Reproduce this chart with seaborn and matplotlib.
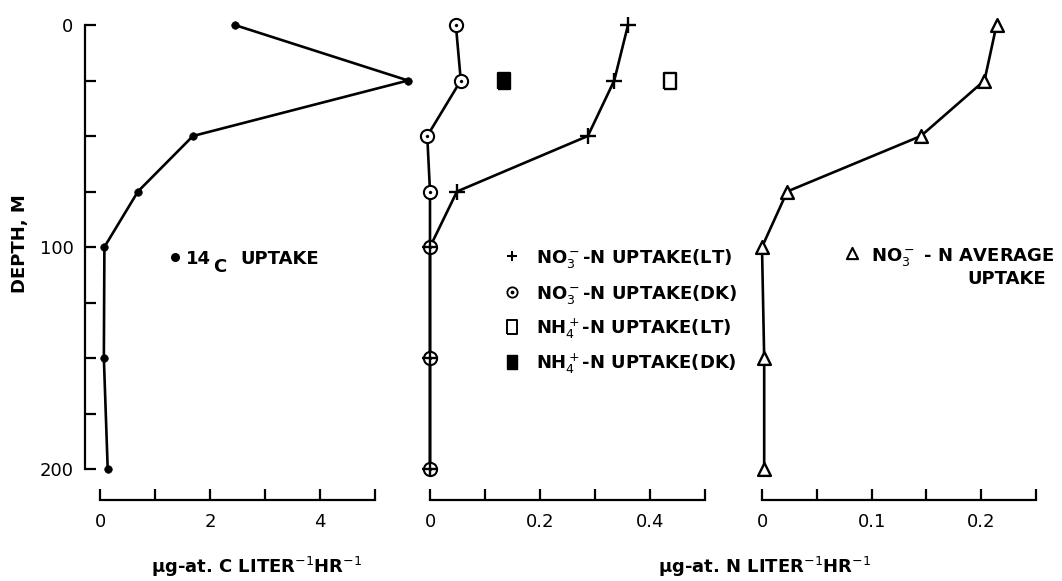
import matplotlib
matplotlib.use('Agg')
import matplotlib.pyplot as plt
import seaborn as sns

# Depth profiles of carbon and nitrogen uptake
depth_m = [0, 25, 50, 75, 100, 150, 200]
c14_uptake = [2.45, 5.6, 1.69, 0.69, 0.08, 0.07, 0.14]
no3_uptake_lt = [0.36, 0.335, 0.287, 0.049, 0.0, 0.0, 0.0]
no3_uptake_dk = [0.047, 0.056, -0.005, 0.0, 0.0, 0.0, 0.0]
nh4_depth_m = [25]
nh4_uptake_lt = [0.436]
nh4_uptake_dk = [0.135]
no3_avg_uptake = [0.214, 0.203, 0.145, 0.023, 0.0, 0.002, 0.002]

c_ticks = [0, 1, 2, 3, 4, 5]
c_ticklabels = ['0', '', '2', '', '4', '']
n_ticks = [0, 0.1, 0.2, 0.3, 0.4, 0.5]
n_ticklabels = ['0', '', '0.2', '', '0.4', '']
avg_ticks = [0, 0.05, 0.1, 0.15, 0.2, 0.25]
avg_ticklabels = ['0', '', '0.1', '', '0.2', '']
depth_major = [0, 100, 200]
depth_minor = [25, 50, 75, 125, 150, 175]

sns.set_theme(style="ticks")
plt.rcParams['font.family'] = ['DejaVu Sans']
plt.rcParams['mathtext.fontset'] = 'dejavusans'
plt.rcParams['text.color'] = 'black'

W, H = 1062, 581
fig = plt.figure(figsize=(W / 100, H / 100), dpi=100)
fig.patch.set_facecolor('white')

TOP, BOT = 25, 469
LW = 1.9
FS = 13


def add_panel(x0, x1):
    return fig.add_axes([x0 / W, 1 - BOT / H, (x1 - x0) / W, (BOT - TOP) / H])


def style_panel(ax, xmax, ticks, labels):
    ax.set_facecolor('white')
    ax.set_xlim(0, xmax)
    ax.set_ylim(200, 0)
    ax.set_xticks(ticks, labels)
    ax.set_xlabel('')
    ax.set_ylabel('')
    for side in ['top', 'right']:
        ax.spines[side].set_visible(False)
    ax.spines['bottom'].set_position(('outward', 22))
    ax.spines['bottom'].set_bounds(0, xmax)
    ax.spines['bottom'].set_linewidth(1.6)
    ax.spines['bottom'].set_color('black')
    ax.tick_params(axis='x', direction='in', length=8, width=1.6, pad=10,
                   labelsize=FS, colors='black')
    if ax is not ax1:
        ax.spines['left'].set_visible(False)
        ax.tick_params(axis='y', left=False, labelleft=False)
    for artist in ax.lines + ax.collections:
        artist.set_clip_on(False)


ax1 = add_panel(100, 375)
ax2 = add_panel(430, 705)
ax3 = add_panel(762, 1036)

# 14C uptake
sns.lineplot(x=c14_uptake, y=depth_m, sort=False, estimator=None,
             color='black', linewidth=LW, ax=ax1)
sns.scatterplot(x=c14_uptake, y=depth_m, color='black', s=30,
                edgecolor='black', ax=ax1, zorder=3)

# NO3 and NH4 uptake, light and dark
sns.lineplot(x=no3_uptake_dk, y=depth_m, sort=False, estimator=None,
             color='black', linewidth=LW, ax=ax2)
sns.lineplot(x=no3_uptake_lt, y=depth_m, sort=False, estimator=None,
             color='black', linewidth=LW, ax=ax2)
sns.scatterplot(x=no3_uptake_dk, y=depth_m, marker='o', s=90, color='white',
                edgecolor='black', linewidth=1.5, ax=ax2, zorder=3)
sns.scatterplot(x=no3_uptake_dk, y=depth_m, marker='o', s=5, color='black',
                edgecolor='black', ax=ax2, zorder=4)
sns.scatterplot(x=no3_uptake_lt, y=depth_m, marker='+', s=120, color='black',
                linewidth=1.7, ax=ax2, zorder=5)
rect = [(-0.4, -0.5), (0.4, -0.5), (0.4, 0.5), (-0.4, 0.5), (-0.4, -0.5)]
sns.scatterplot(x=nh4_uptake_lt, y=nh4_depth_m, marker=rect, s=130, color='white',
                edgecolor='black', linewidth=1.7, ax=ax2, zorder=3)
sns.scatterplot(x=nh4_uptake_dk, y=nh4_depth_m, marker=rect, s=130, color='black',
                edgecolor='black', linewidth=1.7, ax=ax2, zorder=3)

# NO3 average uptake
sns.lineplot(x=no3_avg_uptake, y=depth_m, sort=False, estimator=None,
             color='black', linewidth=LW, ax=ax3)
sns.scatterplot(x=no3_avg_uptake, y=depth_m, marker='^', s=85, color='white',
                edgecolor='black', linewidth=1.7, ax=ax3, zorder=3)

style_panel(ax1, 5, c_ticks, c_ticklabels)
style_panel(ax2, 0.5, n_ticks, n_ticklabels)
style_panel(ax3, 0.25, avg_ticks, avg_ticklabels)

# depth axis
ax1.spines['left'].set_position(('outward', 11))
ax1.spines['left'].set_bounds(0, 200)
ax1.spines['left'].set_linewidth(1.6)
ax1.spines['left'].set_color('black')
ax1.set_yticks(depth_major)
ax1.set_yticks(depth_minor, minor=True)
ax1.tick_params(axis='y', which='both', direction='in', length=8, width=1.6,
                pad=8, labelsize=FS, colors='black')


def fx(px, x0, w):
    return (px - x0) / w


def fy(py):
    return (BOT - py) / (BOT - TOP)


txt = dict(fontsize=FS, fontweight='bold', color='black', va='baseline', ha='left')

# left key
ax1.scatter([fx(175, 100, 275)], [fy(257)], s=30, color='black',
            transform=ax1.transAxes, clip_on=False)
ax1.text(fx(186, 100, 275), fy(263.5), '14', transform=ax1.transAxes, **txt)
ax1.text(fx(213, 100, 275), fy(272), 'C', transform=ax1.transAxes, **txt)
ax1.text(fx(240, 100, 275), fy(263.5), 'UPTAKE', transform=ax1.transAxes, **txt)

# middle key
key_x = fx(512, 430, 275)
text_x = fx(536, 430, 275)
rows = [256, 292, 327, 362]
labels = [r'NO$_3^-$-N UPTAKE(LT)', r'NO$_3^-$-N UPTAKE(DK)',
          r'NH$_4^+$-N UPTAKE(LT)', r'NH$_4^+$-N UPTAKE(DK)']
ax2.scatter([key_x], [fy(rows[0])], marker='+', s=60, color='black', linewidths=1.5,
            transform=ax2.transAxes, clip_on=False)
ax2.scatter([key_x], [fy(rows[1])], marker='o', s=55, color='white', edgecolor='black',
            linewidths=1.3, transform=ax2.transAxes, clip_on=False)
ax2.scatter([key_x], [fy(rows[1])], marker='o', s=3, color='black',
            transform=ax2.transAxes, clip_on=False)
ax2.scatter([key_x], [fy(rows[2])], marker=rect, s=90, color='white', edgecolor='black',
            linewidths=1.4, transform=ax2.transAxes, clip_on=False)
ax2.scatter([key_x], [fy(rows[3])], marker=rect, s=90, color='black',
            transform=ax2.transAxes, clip_on=False)
for r, lab in zip(rows, labels):
    ax2.text(text_x, fy(r + 6.5), lab, transform=ax2.transAxes, **txt)

# right key
ax3.scatter([fx(852, 762, 274)], [fy(253)], marker='^', s=65, color='white',
            edgecolor='black', linewidths=1.5, transform=ax3.transAxes, clip_on=False)
ax3.text(fx(871, 762, 274), fy(261.5), r'NO$_3^-$ - N AVERAGE',
         transform=ax3.transAxes, **txt)
ax3.text(fx(967, 762, 274), fy(284.5), 'UPTAKE', transform=ax3.transAxes, **txt)

# axis titles
fig.text(20 / W, 1 - 244 / H, 'DEPTH, M', rotation=90, ha='center', va='center',
         fontsize=FS, fontweight='bold', color='black')
fig.text(257 / W, 1 - 567 / H, r'μg-at. C LITER$^{-1}$HR$^{-1}$', ha='center',
         va='center', fontsize=FS, fontweight='bold', color='black')
fig.text(765 / W, 1 - 567 / H, r'μg-at. N LITER$^{-1}$HR$^{-1}$', ha='center',
         va='center', fontsize=FS, fontweight='bold', color='black')

fig.savefig('out.png', dpi=100, facecolor='white')
